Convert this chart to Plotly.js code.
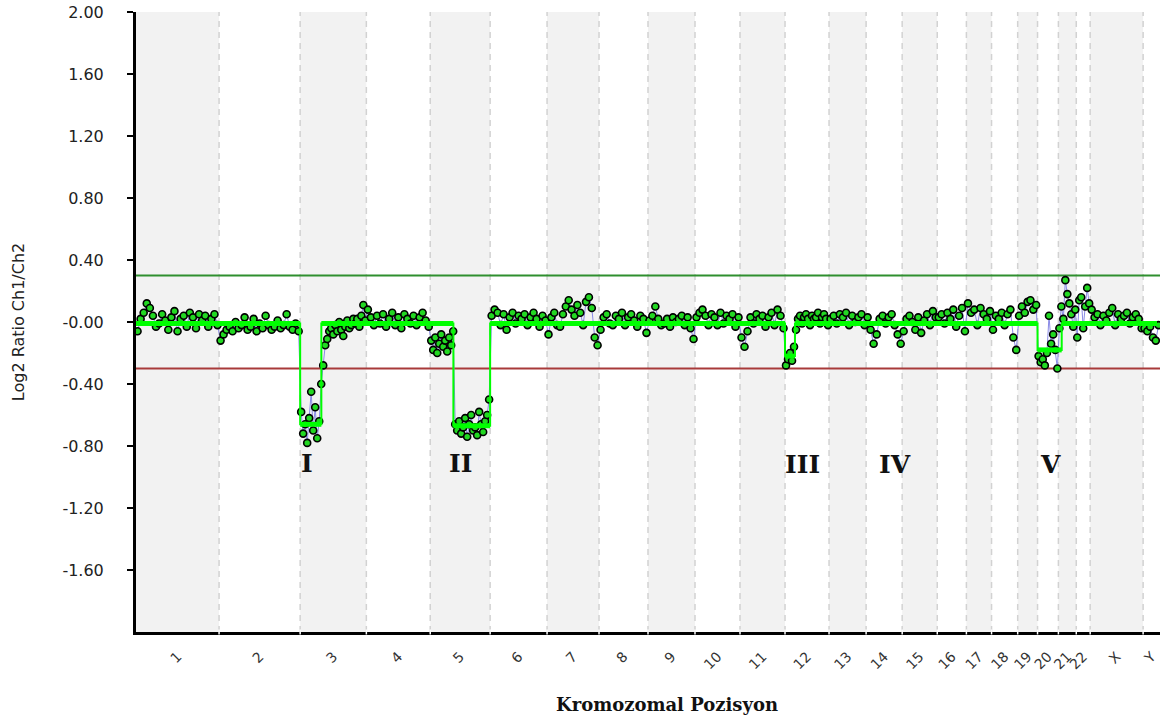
<!DOCTYPE html>
<html><head><meta charset="utf-8">
<script src="https://cdn.plot.ly/plotly-3.0.1.min.js"></script>
<style>html,body{margin:0;padding:0;background:#fff}#chart{width:1166px;height:724px}</style>
</head><body><div id="chart"></div>
<script>
// Chromosomes (names and lengths in Mb)
const chromNames = ["1","2","3","4","5","6","7","8","9","10","11","12","13","14","15","16","17","18","19","20","21","22","X","Y"];
const chromLengths = [251,245,200,193,181,172,157,148,142,136,136,133,112,109,106,88,76,79,60,63,54,42,160,51];

// Log2 ratios per chromosome (probes spread along each chromosome)
const ratioChr1 = [-0.06,0.02,0.06,0.12,0.09,0.04,-0.03,-0.01,0.05,0.01,-0.05,0.03,0.07,-0.06,0.02,0.04,-0.03,0.06,0.03,-0.04,0.05,0.01,0.04,-0.03,0.02,0.05,-0.02];
const ratioChr2 = [-0.12,-0.08,-0.05,-0.03,-0.06,0.00,-0.04,-0.02,0.03,-0.05,-0.03,0.02,-0.06,-0.01,-0.04,0.04,-0.02,-0.05,-0.03,0.01,-0.04,-0.02,0.05,-0.03,-0.05,-0.01,-0.06];
const ratioChr3 = [-0.58,-0.72,-0.66,-0.78,-0.62,-0.45,-0.70,-0.55,-0.75,-0.64,-0.40,-0.28,-0.15,-0.11,-0.06,-0.04,-0.08,-0.02,-0.06,0.00,-0.05,-0.09,-0.03,0.01,-0.04,-0.02,0.02,-0.01,0.02,-0.03,0.04,0.11,0.01];
const ratioChr4 = [0.08,0.03,-0.02,0.04,-0.01,0.05,-0.03,0.02,0.06,-0.02,0.03,-0.04,0.05,0.02,-0.01,0.04,-0.02,0.03,0.06,0.01,-0.03];
const ratioChr5 = [-0.12,-0.18,-0.10,-0.20,-0.14,-0.08,-0.16,-0.12,-0.19,-0.10,-0.15,-0.06,-0.66,-0.70,-0.64,-0.72,-0.68,-0.62,-0.74,-0.66,-0.60,-0.70,-0.68,-0.73,-0.58,-0.66,-0.71,-0.64,-0.60,-0.50];
const ratioChr6 = [0.04,0.08,0.06,-0.02,0.05,-0.05,0.03,0.06,-0.01,0.04,0.02,0.05,-0.02,0.03,0.06,0.02,-0.03,0.04,0.01];
const ratioChr7 = [-0.08,0.03,0.06,-0.02,-0.03,0.05,0.10,0.14,0.08,0.04,0.11,0.06,-0.02,0.13,0.16,0.09,-0.10,-0.15];
const ratioChr8 = [-0.05,0.03,0.05,-0.01,-0.02,0.04,0.02,0.06,-0.02,0.03,0.05,0.01,-0.03,0.04,0.02,-0.07];
const ratioChr9 = [0.01,0.04,0.10,0.02,-0.02,-0.01,0.02,-0.03,0.03,0.00,0.02,0.04,-0.02,0.03,-0.04,-0.11];
const ratioChr10 = [0.03,0.06,0.08,0.04,-0.02,0.05,0.03,-0.02,0.06,-0.01,0.04,0.02,0.05,-0.03,0.03];
const ratioChr11 = [-0.10,-0.16,-0.06,0.03,-0.01,0.05,0.02,0.04,-0.03,0.03,0.06,-0.02,0.08,0.04,-0.04];
const ratioChr12 = [-0.28,-0.24,-0.20,-0.25,-0.16,-0.05,0.02,0.04,-0.01,0.03,0.05,0.02,-0.02,0.04,0.02,0.03,0.06,-0.01,0.03,0.05,0.02,-0.02];
const ratioChr13 = [0.02,0.04,-0.01,0.05,0.03,0.06,-0.02,0.04,0.00,0.03,0.05,-0.02];
const ratioChr14 = [0.03,-0.05,-0.14,-0.08,0.02,0.04,-0.01,0.03,0.05,-0.02,-0.08,-0.14];
const ratioChr15 = [-0.06,0.02,0.04,0.00,-0.05,0.03,-0.07,0.01,0.05,-0.02,0.07,0.03];
const ratioChr16 = [0.03,0.05,-0.01,0.06,0.02,0.08,-0.03,0.04,0.09,-0.06];
const ratioChr17 = [0.12,0.06,0.08,-0.02,0.09,0.05,0.02,0.07];
const ratioChr18 = [-0.05,0.04,0.02,0.06,-0.02,0.05,0.08,-0.10,-0.18];
const ratioChr19 = [0.04,0.10,0.06,0.13,0.14,0.08,0.11];
const ratioChr20 = [-0.22,-0.26,-0.24,-0.28,-0.20,0.04,-0.14,-0.08,-0.18,-0.30];
const ratioChr21 = [-0.04,0.10,0.02,0.27,0.18,0.12,0.05,-0.03,0.08];
const ratioChr22 = [-0.10,0.14,0.16,-0.04,0.10,0.22,0.12];
const ratioChrX = [0.08,0.03,0.05,-0.02,0.04,0.01,0.06,0.09,-0.02,0.05,0.02,0.04,0.06,-0.01,0.03,0.05,0.02,-0.04];
const ratioChrY = [-0.04,-0.06,-0.03,-0.10,-0.12,-0.02];

// Segmentation calls
const segStartChrom = ["1","3","3","5","6","12","12","20","21"];
const segStartMb    = [0,0,64,70,0,0,30,0,10];
const segEndChrom   = ["3","3","5","5","12","12","20","21","Y"];
const segEndMb      = [0,64,70,181,0,30,0,10,42];
const segValue      = [-0.01,-0.66,-0.01,-0.67,-0.01,-0.22,-0.01,-0.18,-0.01];

// Thresholds
const thresholdValues = [0.3, -0.3];
const thresholdColors = ["#2f8f2f", "#a83a3a"];

// Y ticks
const yTickVals = [2, 1.6, 1.2, 0.8, 0.4, 0, -0.4, -0.8, -1.2, -1.6];
const yTickText = ["2.00","1.60","1.20","0.80","0.40","-0.00","-0.40","-0.80","-1.20","-1.60"];

// Region labels
const regionLabels = ["I","II","III","IV","V"];
const regionChrom  = ["3","5","12","14","20"];
const regionMb     = [21,91,54,88,39];
const regionY      = [-0.91,-0.91,-0.92,-0.92,-0.92];

// ---- build ----
const ratios = [ratioChr1,ratioChr2,ratioChr3,ratioChr4,ratioChr5,ratioChr6,ratioChr7,ratioChr8,ratioChr9,ratioChr10,ratioChr11,ratioChr12,ratioChr13,ratioChr14,ratioChr15,ratioChr16,ratioChr17,ratioChr18,ratioChr19,ratioChr20,ratioChr21,ratioChr22,ratioChrX,ratioChrY];
const offsets = [];
let acc = 0;
chromLengths.forEach(l => { offsets.push(acc); acc += l; });
const total = acc;
const gpos = (c, mb) => offsets[chromNames.indexOf(c)] + mb;

const px = [], py = [];
ratios.forEach((arr, i) => {
  arr.forEach((v, j) => {
    px.push(offsets[i] + (j + 0.5) / arr.length * chromLengths[i]);
    py.push(v);
  });
});

// step outline (thin) and thick horizontal segment bars
const sx = [], sy = [], hx = [], hy = [];
segValue.forEach((v, k) => {
  const a = gpos(segStartChrom[k], segStartMb[k]), b = gpos(segEndChrom[k], segEndMb[k]);
  sx.push(a, b); sy.push(v, v);
  hx.push(a, b, null); hy.push(v, v, null);
});

const shapes = [];
chromLengths.forEach((l, i) => {
  if (i % 2 === 0) shapes.push({type:'rect', xref:'x', yref:'paper', x0:offsets[i], x1:offsets[i]+l, y0:0, y1:1, fillcolor:'#f2f2f2', line:{width:0}, layer:'below'});
});
for (let i = 1; i < chromLengths.length; i++) {
  shapes.push({type:'line', xref:'x', yref:'paper', x0:offsets[i], x1:offsets[i], y0:0, y1:1, line:{color:'#d2d2d2', width:1.5, dash:'6px,5px'}, layer:'below'});
}
thresholdValues.forEach((t, k) => {
  shapes.push({type:'line', xref:'paper', yref:'y', x0:0, x1:1, y0:t, y1:t, line:{color:thresholdColors[k], width:2}, layer:'below'});
});
for (let i = 1; i < chromLengths.length; i++) {
  shapes.push({type:'line', xref:'x', yref:'paper', x0:offsets[i], x1:offsets[i], y0:-0.004, y1:0.004, line:{color:'#ffffff', width:1.5}, layer:'above'});
}

const annotations = regionLabels.map((t, k) => ({
  text:'<b>'+t+'</b>', xref:'x', yref:'y', x:gpos(regionChrom[k], regionMb[k]), y:regionY[k],
  showarrow:false, font:{family:'DejaVu Serif', size:25, color:'#111'}, xanchor:'center', yanchor:'middle'
}));
annotations.push({text:'<b>Kromozomal Pozisyon</b>', xref:'paper', yref:'paper', x:0.5186, y:-0.1177, showarrow:false,
  font:{family:'DejaVu Serif', size:18, color:'#111'}, xanchor:'center', yanchor:'middle'});

const tickCenters = chromLengths.map((l, i) => offsets[i] + l / 2);

const traces = [
  {type:'scatter', mode:'lines+markers', x:px, y:py, line:{color:'#8a8ae6', width:1},
   marker:{size:7, color:'#22d822', line:{color:'#000', width:1.6}}, hoverinfo:'skip', showlegend:false},
  {type:'scatter', mode:'lines', x:sx, y:sy, line:{color:'#00ff00', width:2}, hoverinfo:'skip', showlegend:false},
  {type:'scatter', mode:'lines', x:hx, y:hy, line:{color:'#00ff00', width:5}, connectgaps:false, hoverinfo:'skip', showlegend:false}
];

const layout = {
  width:1166, height:724,
  margin:{l:136, r:6, t:12, b:92},
  paper_bgcolor:'#fff', plot_bgcolor:'#fff',
  showlegend:false,
  xaxis:{range:[0,total], showgrid:false, zeroline:false, showline:true, linecolor:'#000', linewidth:3,
    tickmode:'array', tickvals:tickCenters, ticktext:chromNames, tickangle:-45, ticks:'',
    tickfont:{family:'DejaVu Sans', size:14, color:'#333'}, ticklabelstandoff:8, fixedrange:true},
  yaxis:{range:[-2,2], showgrid:false, zeroline:false, showline:true, linecolor:'#000', linewidth:3,
    tickmode:'array', tickvals:yTickVals, ticktext:yTickText, ticks:'outside', ticklen:6, tickwidth:2, tickcolor:'#000',
    tickfont:{family:'DejaVu Sans', size:16, color:'#222'}, ticklabelstandoff:20,
    title:{text:'Log2 Ratio Ch1/Ch2', font:{family:'DejaVu Sans', size:16, color:'#222'}, standoff:34}, fixedrange:true},
  shapes:shapes,
  annotations:annotations
};

Plotly.newPlot('chart', traces, layout, {displayModeBar:false, staticPlot:true});
</script>
</body></html>
